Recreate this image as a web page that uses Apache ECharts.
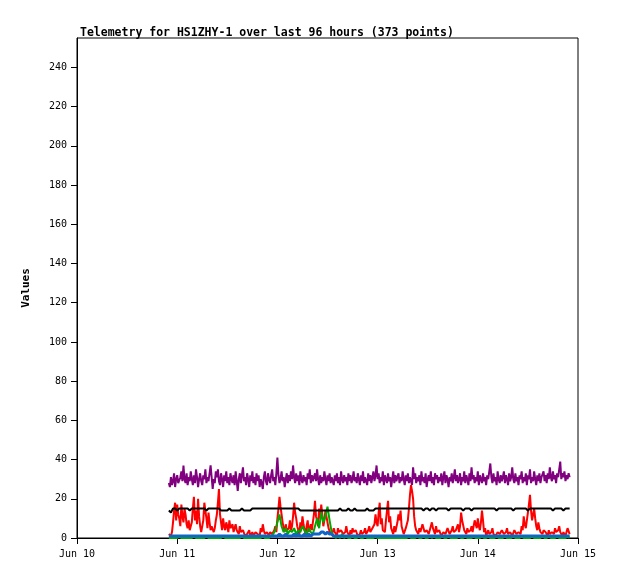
<!DOCTYPE html>
<html lang="en">
<head>
	<meta charset="UTF-8">
	<title>Telemetry HS1ZHY-1</title>
	<script src="https://cdn.jsdelivr.net/npm/echarts@6/dist/echarts.min.js"></script>
	<style>
		html,body{width:100%;height:100%;margin:0;background:#fff;}
		#chart{width:618px;height:579px;}
	</style>
</head>
<body>
	<div id="chart"></div>
<script>
	// first sample Jun 10 22:00; purple/red every 15 min, the rest every 30 min
	var startTime = new Date(2024, 5, 10, 22, 0).getTime();
	var fineStep = 15 * 60 * 1000;
	var coarseStep = 30 * 60 * 1000;
	var dayLabels = ['Jun 10', 'Jun 11', 'Jun 12', 'Jun 13', 'Jun 14', 'Jun 15'];

	var purple = [
		28,26,31,27,29,33,26,30,32,28,27,31,34,29,37,30,28,33,27,31,
		29,34,30,27,32,28,35,31,26,30,33,29,27,32,30,35,28,31,29,33,
		37,31,25,30,28,34,31,35,29,27,33,30,26,32,29,34,28,31,27,33,
		30,28,32,27,34,29,24,30,33,28,32,36,29,31,27,33,30,26,32,29,
		34,28,31,27,33,29,32,26,30,28,25,31,34,29,27,33,30,28,32,35,
		29,31,27,33,41,32,28,30,34,29,31,26,30,33,28,32,29,34,30,37,
		31,28,33,29,32,27,34,30,28,32,29,31,27,33,30,35,28,32,29,31,
		33,29,35,30,27,32,28,31,29,34,30,27,32,29,33,28,31,30,27,32,
		29,33,28,31,27,34,30,28,32,29,31,27,33,29,32,28,30,34,29,31,
		28,33,30,27,32,29,34,28,31,30,27,33,29,32,28,31,34,29,32,37,
		30,33,28,31,29,34,27,32,30,28,33,29,31,26,30,34,28,32,29,31,
		33,28,31,29,34,30,27,32,29,33,28,31,30,27,36,30,33,28,31,29,
		32,27,34,29,31,28,33,26,30,32,29,34,28,31,27,33,30,32,28,31,
		29,33,27,31,34,28,32,30,26,31,29,33,28,31,35,29,32,28,30,33,
		27,31,29,34,28,32,30,27,33,29,36,30,32,28,31,29,34,27,32,30,
		28,33,29,31,27,32,30,34,38,31,28,33,29,31,27,34,30,28,32,29,
		31,34,28,32,30,27,33,29,31,36,30,28,33,29,31,27,32,30,34,28,
		31,29,33,27,32,30,35,28,31,29,34,30,27,32,29,33,28,31,30,34,
		29,32,28,33,30,36,31,29,34,30,32,28,33,31,35,39,30,33,31,34,
		29,32,30,33,31
	];
	var red = [
		2,1,1,3,8,14,18,9,17,12,10,6,17,11,8,15,12,7,5,9,
		4,3,8,15,21,9,14,7,20,11,6,3,4,9,18,14,10,5,13,8,
		4,6,7,3,5,9,12,18,25,12,8,4,10,6,4,8,6,3,9,5,
		5,7,3,2,7,4,4,2,6,3,2,4,3,1,1,2,2,4,1,2,
		3,1,2,3,4,2,2,1,5,3,7,4,2,1,3,2,1,3,4,2,
		2,4,6,3,10,15,21,16,12,8,5,3,7,4,3,5,9,4,6,11,
		18,13,10,6,4,2,8,5,11,7,4,2,6,9,3,5,7,4,5,12,
		19,11,9,6,15,10,17,12,6,9,14,11,8,5,4,2,2,3,5,3,
		2,1,5,3,2,4,3,2,1,3,6,3,2,1,4,2,5,3,2,4,
		3,1,1,2,4,2,2,3,5,2,3,4,6,3,2,5,4,7,12,8,
		6,13,18,7,10,4,5,3,9,14,19,8,11,5,4,2,6,3,3,8,
		12,9,14,6,5,2,3,5,4,9,15,22,27,24,20,11,6,4,3,2,
		5,3,4,7,6,3,2,4,5,2,3,6,8,5,4,2,6,3,2,4,
		3,1,1,3,4,2,2,5,5,2,3,4,6,3,2,4,5,7,3,6,
		13,9,8,4,3,2,5,3,2,4,6,3,4,9,7,5,10,6,4,8,
		14,9,3,5,1,2,4,2,2,3,5,2,3,1,1,3,3,2,2,4,
		4,2,2,3,5,2,1,3,3,1,2,4,4,2,1,3,3,2,6,4,
		11,7,5,9,13,17,22,14,9,12,15,10,6,4,8,5,3,2,2,4,
		5,3,2,1,4,2,1,3,3,2,5,3,2,4,6,3,2,1,3,2,
		1,3,5,4,2
	];
	var black = [
		14,13,15,15,14,15,15,15,15,15,14,
		15,15,15,15,15,15,15,14,15,15,
		15,15,15,15,14,14,14,14,15,14,
		14,14,14,14,15,14,14,14,14,15,
		15,15,15,15,15,15,15,15,15,15,
		15,15,15,15,15,15,15,15,15,15,
		15,15,14,14,14,14,14,14,14,14,
		14,14,14,14,14,14,14,14,14,14,
		14,15,14,14,14,15,14,14,15,14,
		14,14,14,14,15,14,14,14,15,15,
		15,15,15,15,15,15,15,15,15,15,
		15,15,15,15,15,15,15,15,15,15,
		15,14,15,15,14,15,15,14,15,15,
		15,15,15,14,15,15,15,15,15,15,
		14,15,15,15,14,15,15,15,15,15,
		15,15,15,15,15,15,14,15,15,15,
		15,15,15,15,14,15,15,15,15,15,
		15,14,15,15,15,15,15,15,15,15,
		15,15,15,14,15,15,15,15,14,15,
		15,15
	];
	var green = [
		0,0,0,0,0,1,0,0,0,0,0,
		0,1,0,0,0,0,0,1,0,0,
		0,0,0,0,0,1,0,0,0,0,
		0,0,0,0,1,0,0,0,0,0,
		0,0,0,0,1,0,0,0,1,2,
		4,8,12,6,3,5,2,4,3,5,
		2,4,3,6,4,2,5,3,2,6,
		10,5,13,8,11,16,9,3,1,0,
		1,0,2,0,1,0,0,1,0,0,
		1,0,0,1,0,0,0,0,1,0,
		0,0,0,0,0,0,0,0,0,0,
		0,0,0,0,1,0,0,0,1,0,
		0,1,0,0,1,0,1,0,0,0,
		1,0,0,1,0,0,0,0,1,0,
		0,1,0,0,0,1,0,0,0,1,
		0,0,1,0,0,0,1,0,0,0,
		1,0,0,0,1,0,0,0,1,0,
		0,0,0,1,0,0,0,0,1,0,
		0,1,0,0,0,1,0,0,0,0,
		1,0
	];
	var blue = [
		1,1,1,1,1,1,1,1,1,1,1,
		1,1,1,1,1,1,1,1,1,1,
		1,1,1,1,1,1,1,1,1,1,
		1,1,1,1,1,1,1,1,1,1,
		1,1,1,1,1,1,1,1,1,1,
		1,1,2,1,1,2,1,1,1,2,
		1,2,1,1,2,1,2,1,2,2,
		2,2,3,3,2,3,2,2,1,1,
		1,1,1,1,1,1,1,1,1,1,
		1,1,1,1,1,1,1,1,1,1,
		1,1,1,1,1,1,1,1,1,1,
		1,1,1,1,1,1,1,1,1,1,
		1,1,1,1,1,1,1,1,1,1,
		1,1,1,1,1,1,1,1,1,1,
		1,1,1,1,1,1,1,1,1,1,
		1,1,1,1,1,1,1,1,1,1,
		1,1,1,1,1,1,1,1,1,1,
		1,1,1,1,1,1,1,1,1,1,
		1,1,1,1,1,1,1,1,1,1,
		1,1
	];

	function pairs(values, step) {
		var out = [];
		for (var i = 0; i < values.length; i++) {
			out.push([startTime + i * step, values[i]]);
		}
		return out;
	}

	function line(name, color, values, step, width) {
		return {
			name: name, type: 'line', data: pairs(values, step),
			showSymbol: false, symbol: 'none', smooth: false,
			lineStyle: {color: color, width: width || 2},
			itemStyle: {color: color},
			emphasis: {disabled: true}
		};
	}

	var mono = 'DejaVu Sans Mono';
	var dayMin = new Date(2024, 5, 10).getTime();
	var dayMax = new Date(2024, 5, 15).getTime();
	var dayMs = 24 * 3600 * 1000;

	var myChart = echarts.init(document.getElementById('chart'));
	myChart.setOption({
		animation: false,
		backgroundColor: '#fff',
		title: {
			text: 'Telemetry for HS1ZHY-1 over last 96 hours (373 points)',
			left: 75, top: 22,
			textStyle: {fontFamily: mono, fontSize: 11.5, fontWeight: 'bold', color: '#000'}
		},
		grid: {
			left: 77, right: 40, top: 38, bottom: 41,
			show: true, borderColor: '#000', borderWidth: 1, backgroundColor: 'transparent'
		},
		xAxis: {
			type: 'time', min: dayMin, max: dayMax, interval: dayMs,
			splitLine: {show: false},
			axisLine: {lineStyle: {color: '#000', width: 1}},
			axisTick: {show: true, length: 6, lineStyle: {color: '#000'}},
			axisLabel: {
				margin: 11, color: '#000', fontFamily: mono, fontSize: 10,
				showMinLabel: true, showMaxLabel: true,
				formatter: function (v) {
					var idx = Math.round((v - dayMin) / dayMs);
					return dayLabels[idx] || '';
				}
			}
		},
		yAxis: {
			type: 'value', min: 0, max: 255, interval: 20,
			name: 'Values', nameLocation: 'middle', nameGap: 45,
			nameTextStyle: {fontFamily: mono, fontSize: 11, fontWeight: 'bold', color: '#000'},
			splitLine: {show: false},
			axisLine: {show: true, lineStyle: {color: '#000', width: 1}},
			axisTick: {show: true, length: 6, lineStyle: {color: '#000'}},
			axisLabel: {
				margin: 10, color: '#000', fontFamily: mono, fontSize: 10,
				showMaxLabel: false,
				formatter: function (v) { return v % 20 === 0 ? String(v) : ''; }
			}
		},
		series: [
			line('purple', '#800080', purple, fineStep),
			line('red', '#ff0000', red, fineStep),
			line('green', '#00a800', green, coarseStep),
			line('black', '#000000', black, coarseStep),
			line('blue', '#0f66c8', blue, coarseStep, 3)
		]
	});
</script>
</body>
</html>
